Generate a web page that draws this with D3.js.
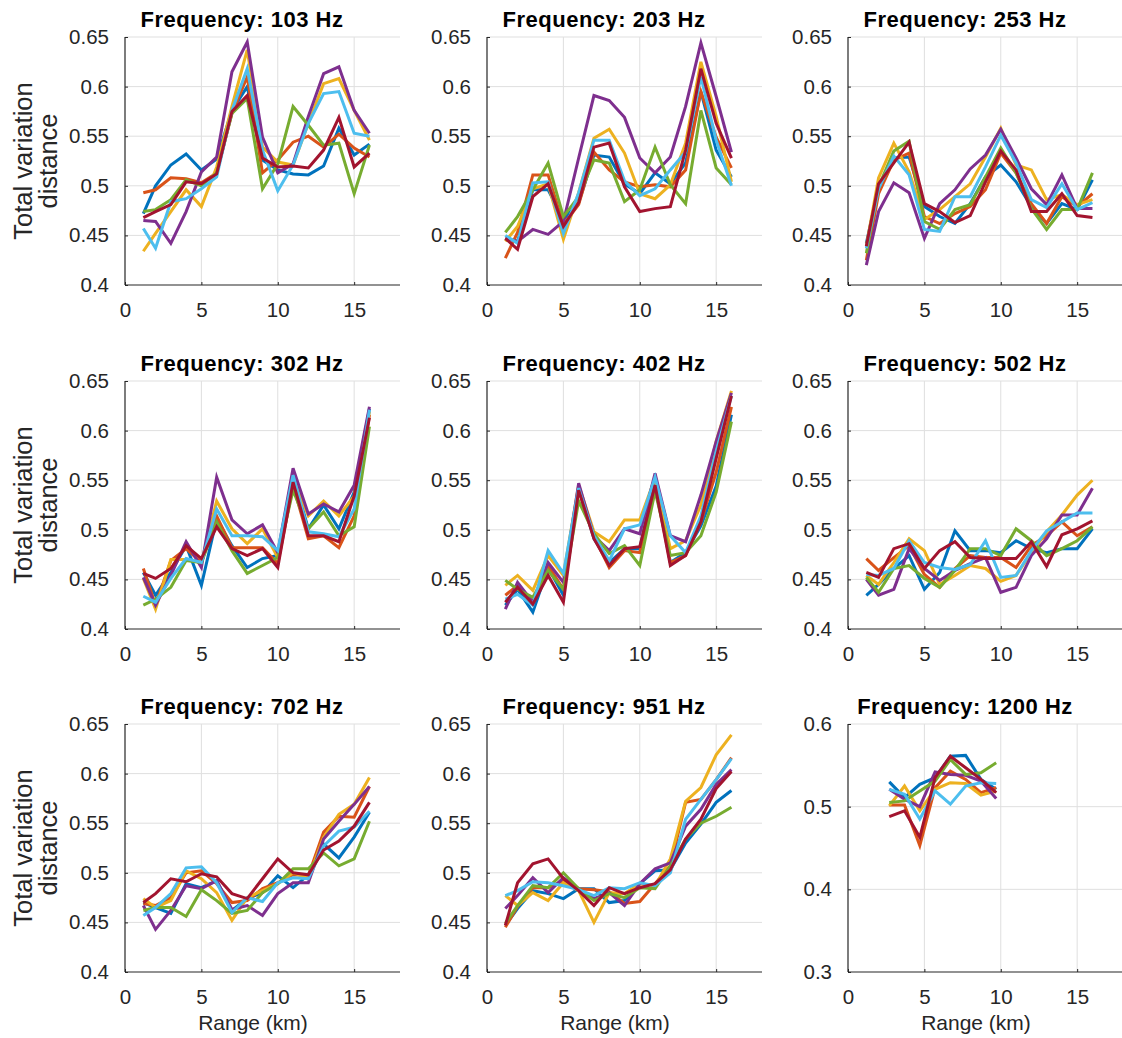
<!DOCTYPE html>
<html>
<head>
<meta charset="utf-8">
<script src="https://cdn.jsdelivr.net/npm/d3@7"></script>
<style>
  html, body { margin: 0; padding: 0; background: #fff; }
  svg { display: block; }
  text { font-family: "Liberation Sans", Arial, Helvetica, sans-serif; }
</style>
</head>
<body>
<svg id="chart" width="1122" height="1038"></svg>
<script>
// ---------------- data ----------------
const seriesColors = ["#0072BD", "#D95319", "#EDB120", "#7E2F8E", "#77AC30", "#4DBEEE", "#A2142F"];
const frequencies = ["103", "203", "253", "302", "402", "502", "702", "951", "1200"];
const rangeKm = [1.2, 2, 3, 4, 5, 6, 7, 8, 9, 10, 11, 12, 13, 14, 15, 16];
const rangeKm1200 = [2.7, 3.7, 4.7, 5.7, 6.7, 7.7, 8.7, 9.7];
const xTicks = [0, 5, 10, 15];
const yTicks = [0.4, 0.45, 0.5, 0.55, 0.6, 0.65];
const yTicks1200 = [0.3, 0.4, 0.5, 0.6];

// each array: 7 series (blue, orange, yellow, purple, green, light blue, dark red)
const tv103 = [
  [0.472, 0.500, 0.521, 0.532, 0.516, 0.527, 0.576, 0.600, 0.526, 0.516, 0.512, 0.511, 0.520, 0.558, 0.531, 0.542],
  [0.493, 0.496, 0.508, 0.507, 0.503, 0.513, 0.573, 0.610, 0.513, 0.526, 0.544, 0.550, 0.539, 0.552, 0.538, 0.529],
  [0.434, 0.452, 0.474, 0.496, 0.479, 0.519, 0.580, 0.637, 0.539, 0.524, 0.521, 0.563, 0.603, 0.608, 0.576, 0.546],
  [0.465, 0.464, 0.442, 0.474, 0.514, 0.529, 0.615, 0.645, 0.549, 0.513, 0.522, 0.570, 0.613, 0.620, 0.576, 0.553],
  [0.474, 0.476, 0.486, 0.506, 0.500, 0.513, 0.573, 0.588, 0.497, 0.522, 0.580, 0.561, 0.541, 0.543, 0.492, 0.541],
  [0.457, 0.437, 0.484, 0.487, 0.497, 0.509, 0.576, 0.618, 0.536, 0.495, 0.521, 0.563, 0.593, 0.595, 0.553, 0.550],
  [0.468, 0.474, 0.481, 0.504, 0.502, 0.512, 0.575, 0.591, 0.528, 0.519, 0.520, 0.518, 0.536, 0.569, 0.519, 0.533]
];
const tv203 = [
  [0.447, 0.444, 0.496, 0.496, 0.466, 0.483, 0.531, 0.529, 0.502, 0.492, 0.513, 0.502, 0.523, 0.595, 0.536, 0.509],
  [0.427, 0.453, 0.511, 0.511, 0.461, 0.481, 0.534, 0.516, 0.504, 0.499, 0.501, 0.499, 0.516, 0.595, 0.549, 0.518],
  [0.444, 0.459, 0.497, 0.502, 0.446, 0.493, 0.548, 0.557, 0.533, 0.492, 0.487, 0.501, 0.543, 0.625, 0.570, 0.504],
  [0.447, 0.444, 0.456, 0.451, 0.464, 0.528, 0.591, 0.586, 0.569, 0.528, 0.513, 0.529, 0.580, 0.644, 0.590, 0.534],
  [0.453, 0.469, 0.496, 0.523, 0.469, 0.489, 0.526, 0.523, 0.484, 0.496, 0.539, 0.501, 0.482, 0.576, 0.518, 0.501],
  [0.450, 0.442, 0.503, 0.504, 0.452, 0.493, 0.546, 0.546, 0.505, 0.490, 0.497, 0.516, 0.534, 0.610, 0.546, 0.500],
  [0.447, 0.436, 0.489, 0.502, 0.459, 0.483, 0.539, 0.543, 0.499, 0.474, 0.477, 0.479, 0.536, 0.618, 0.563, 0.528]
];
const tv253 = [
  [0.442, 0.499, 0.528, 0.529, 0.479, 0.469, 0.462, 0.482, 0.509, 0.521, 0.504, 0.479, 0.462, 0.482, 0.476, 0.506],
  [0.425, 0.492, 0.526, 0.533, 0.469, 0.462, 0.472, 0.479, 0.496, 0.533, 0.513, 0.482, 0.462, 0.489, 0.479, 0.492],
  [0.439, 0.508, 0.543, 0.514, 0.466, 0.476, 0.489, 0.502, 0.529, 0.558, 0.521, 0.516, 0.486, 0.491, 0.481, 0.486],
  [0.420, 0.474, 0.503, 0.493, 0.447, 0.482, 0.496, 0.517, 0.531, 0.557, 0.528, 0.497, 0.481, 0.511, 0.477, 0.477],
  [0.432, 0.499, 0.535, 0.545, 0.464, 0.456, 0.476, 0.481, 0.509, 0.538, 0.513, 0.477, 0.456, 0.476, 0.476, 0.513],
  [0.437, 0.497, 0.530, 0.511, 0.456, 0.454, 0.489, 0.489, 0.519, 0.551, 0.523, 0.486, 0.478, 0.502, 0.476, 0.483],
  [0.439, 0.502, 0.523, 0.544, 0.482, 0.474, 0.463, 0.470, 0.504, 0.535, 0.516, 0.474, 0.474, 0.492, 0.470, 0.468]
];
const tv302 = [
  [0.457, 0.434, 0.457, 0.484, 0.444, 0.511, 0.484, 0.462, 0.471, 0.474, 0.555, 0.501, 0.525, 0.501, 0.538, 0.622],
  [0.461, 0.424, 0.469, 0.481, 0.467, 0.514, 0.482, 0.482, 0.482, 0.466, 0.545, 0.491, 0.494, 0.482, 0.514, 0.616],
  [0.451, 0.420, 0.470, 0.470, 0.467, 0.529, 0.501, 0.486, 0.501, 0.472, 0.552, 0.514, 0.529, 0.514, 0.534, 0.619],
  [0.452, 0.424, 0.454, 0.488, 0.462, 0.553, 0.510, 0.496, 0.505, 0.477, 0.562, 0.516, 0.526, 0.518, 0.545, 0.624],
  [0.424, 0.430, 0.442, 0.469, 0.467, 0.508, 0.479, 0.456, 0.464, 0.472, 0.540, 0.501, 0.518, 0.494, 0.503, 0.604],
  [0.433, 0.427, 0.451, 0.471, 0.467, 0.521, 0.494, 0.494, 0.493, 0.479, 0.555, 0.498, 0.496, 0.493, 0.521, 0.621],
  [0.456, 0.451, 0.461, 0.484, 0.471, 0.503, 0.481, 0.474, 0.481, 0.462, 0.548, 0.494, 0.494, 0.488, 0.534, 0.613]
];
const tv402 = [
  [0.424, 0.440, 0.417, 0.462, 0.434, 0.542, 0.491, 0.467, 0.481, 0.481, 0.552, 0.467, 0.477, 0.504, 0.544, 0.616],
  [0.434, 0.444, 0.427, 0.464, 0.440, 0.540, 0.493, 0.462, 0.479, 0.477, 0.545, 0.467, 0.474, 0.508, 0.558, 0.624],
  [0.444, 0.454, 0.439, 0.474, 0.454, 0.545, 0.498, 0.488, 0.510, 0.510, 0.552, 0.481, 0.489, 0.525, 0.589, 0.640],
  [0.420, 0.447, 0.427, 0.467, 0.447, 0.547, 0.494, 0.479, 0.501, 0.496, 0.557, 0.494, 0.488, 0.535, 0.589, 0.638],
  [0.449, 0.440, 0.432, 0.459, 0.440, 0.529, 0.496, 0.476, 0.484, 0.464, 0.539, 0.474, 0.477, 0.494, 0.538, 0.609],
  [0.430, 0.435, 0.424, 0.479, 0.456, 0.542, 0.494, 0.469, 0.501, 0.505, 0.553, 0.494, 0.477, 0.514, 0.579, 0.635],
  [0.427, 0.442, 0.425, 0.454, 0.427, 0.540, 0.491, 0.464, 0.481, 0.483, 0.545, 0.464, 0.474, 0.508, 0.572, 0.635]
];
const tv502 = [
  [0.434, 0.445, 0.461, 0.474, 0.440, 0.457, 0.499, 0.479, 0.479, 0.477, 0.489, 0.481, 0.477, 0.481, 0.481, 0.501],
  [0.471, 0.459, 0.472, 0.484, 0.455, 0.442, 0.461, 0.474, 0.472, 0.472, 0.462, 0.484, 0.494, 0.508, 0.494, 0.503],
  [0.454, 0.445, 0.467, 0.491, 0.479, 0.445, 0.454, 0.464, 0.461, 0.448, 0.454, 0.477, 0.498, 0.515, 0.535, 0.550],
  [0.450, 0.434, 0.440, 0.481, 0.461, 0.449, 0.459, 0.466, 0.472, 0.437, 0.442, 0.474, 0.491, 0.515, 0.515, 0.542],
  [0.452, 0.437, 0.461, 0.464, 0.451, 0.442, 0.459, 0.481, 0.481, 0.474, 0.501, 0.489, 0.474, 0.481, 0.489, 0.503],
  [0.455, 0.454, 0.461, 0.489, 0.467, 0.462, 0.460, 0.465, 0.489, 0.452, 0.454, 0.479, 0.499, 0.508, 0.517, 0.517],
  [0.457, 0.452, 0.481, 0.486, 0.461, 0.479, 0.488, 0.472, 0.471, 0.471, 0.471, 0.488, 0.463, 0.495, 0.501, 0.509]
];
const tv702 = [
  [0.470, 0.465, 0.459, 0.489, 0.485, 0.492, 0.462, 0.474, 0.480, 0.497, 0.485, 0.498, 0.529, 0.515, 0.536, 0.561],
  [0.469, 0.467, 0.475, 0.500, 0.502, 0.489, 0.470, 0.472, 0.484, 0.490, 0.498, 0.497, 0.541, 0.557, 0.556, 0.587],
  [0.474, 0.465, 0.472, 0.502, 0.494, 0.480, 0.452, 0.475, 0.482, 0.489, 0.500, 0.495, 0.536, 0.559, 0.569, 0.596],
  [0.467, 0.443, 0.462, 0.487, 0.484, 0.492, 0.463, 0.467, 0.457, 0.479, 0.490, 0.490, 0.534, 0.552, 0.569, 0.587],
  [0.462, 0.465, 0.465, 0.456, 0.483, 0.472, 0.459, 0.462, 0.480, 0.489, 0.504, 0.504, 0.520, 0.507, 0.514, 0.552],
  [0.457, 0.465, 0.479, 0.505, 0.506, 0.490, 0.460, 0.475, 0.471, 0.490, 0.495, 0.494, 0.527, 0.542, 0.546, 0.562],
  [0.470, 0.479, 0.494, 0.491, 0.499, 0.496, 0.479, 0.474, 0.494, 0.514, 0.500, 0.498, 0.523, 0.532, 0.547, 0.571]
];
const tv951 = [
  [0.447, 0.464, 0.482, 0.479, 0.474, 0.484, 0.484, 0.470, 0.472, 0.489, 0.502, 0.503, 0.530, 0.549, 0.571, 0.583],
  [0.445, 0.466, 0.485, 0.485, 0.492, 0.484, 0.483, 0.481, 0.469, 0.471, 0.489, 0.507, 0.571, 0.574, 0.594, 0.616],
  [0.477, 0.467, 0.480, 0.472, 0.490, 0.482, 0.450, 0.480, 0.479, 0.489, 0.487, 0.514, 0.572, 0.586, 0.619, 0.639],
  [0.464, 0.477, 0.495, 0.480, 0.495, 0.484, 0.474, 0.480, 0.467, 0.489, 0.504, 0.510, 0.547, 0.564, 0.589, 0.604],
  [0.449, 0.467, 0.487, 0.485, 0.500, 0.484, 0.472, 0.479, 0.475, 0.485, 0.484, 0.507, 0.534, 0.550, 0.557, 0.566],
  [0.477, 0.482, 0.491, 0.490, 0.487, 0.483, 0.477, 0.485, 0.484, 0.490, 0.487, 0.500, 0.554, 0.574, 0.594, 0.615],
  [0.447, 0.490, 0.509, 0.514, 0.494, 0.482, 0.467, 0.485, 0.479, 0.485, 0.489, 0.503, 0.534, 0.554, 0.585, 0.602]
];
const tv1200 = [
  [0.530, 0.511, 0.527, 0.535, 0.561, 0.562, 0.533, 0.521],
  [0.502, 0.502, 0.453, 0.523, 0.543, 0.533, 0.517, 0.523],
  [0.501, 0.525, 0.495, 0.521, 0.529, 0.528, 0.514, 0.519],
  [0.521, 0.509, 0.500, 0.542, 0.539, 0.538, 0.531, 0.510],
  [0.505, 0.507, 0.519, 0.531, 0.557, 0.539, 0.541, 0.553],
  [0.521, 0.515, 0.485, 0.519, 0.503, 0.525, 0.529, 0.528],
  [0.488, 0.495, 0.463, 0.535, 0.561, 0.547, 0.533, 0.517]
];

// ---------------- layout ----------------
const panelData = [tv103, tv203, tv253, tv302, tv402, tv502, tv702, tv951, tv1200];
const colLeft = [125, 487, 848];
const rowTop = [37, 381, 724];
const W = 275, H = 248;

const svg = d3.select("#chart");
const tickColor = "#262626";
const gridColor = "#dfdfdf";

panelData.forEach((series, i) => {
  const col = i % 3, row = Math.floor(i / 3);
  const is1200 = i === 8;
  const xs = is1200 ? rangeKm1200 : rangeKm;
  const g = svg.append("g").attr("transform", `translate(${colLeft[col]},${rowTop[row]})`);

  const x = d3.scaleLinear().domain([0, 18]).range([0, W]);
  const y = d3.scaleLinear().domain(is1200 ? [0.3, 0.6] : [0.4, 0.65]).range([H, 0]);
  const yt = is1200 ? yTicks1200 : yTicks;

  // grid
  g.append("g").selectAll("line").data(xTicks.filter(d => d > 0)).join("line")
    .attr("x1", d => x(d)).attr("x2", d => x(d)).attr("y1", 0).attr("y2", H)
    .attr("stroke", gridColor).attr("stroke-width", 1);
  g.append("g").selectAll("line").data(yt.filter(d => d > y.domain()[0])).join("line")
    .attr("x1", 0).attr("x2", W).attr("y1", d => y(d)).attr("y2", d => y(d))
    .attr("stroke", gridColor).attr("stroke-width", 1);

  // axes
  const xAxis = d3.axisBottom(x).tickValues(xTicks).tickSize(-3).tickPadding(17).tickFormat(d3.format("d"));
  const yAxis = d3.axisLeft(y).tickValues(yt).tickSize(-3).tickPadding(16).tickFormat(d => String(+d.toFixed(2)));
  const gx = g.append("g").attr("transform", `translate(0,${H})`).call(xAxis);
  const gy = g.append("g").call(yAxis);
  [gx, gy].forEach(a => {
    a.select(".domain").attr("stroke", tickColor).attr("stroke-width", 1.2);
    a.selectAll(".tick line").attr("stroke", tickColor);
    a.selectAll(".tick text").attr("fill", tickColor).style("font-size", "20.5px")
      .style("font-family", '"Liberation Sans", Arial, sans-serif');
  });
  gx.select(".domain").attr("d", `M0,0H${W}`);
  gy.select(".domain").attr("d", `M0,${H}V0`);

  // lines
  const line = d3.line().x((d, k) => x(xs[k])).y(d => y(d));
  g.append("g").selectAll("path").data(series).join("path")
    .attr("d", d => line(d))
    .attr("fill", "none")
    .attr("stroke", (d, k) => seriesColors[k])
    .attr("stroke-width", 3)
    .attr("stroke-linejoin", "miter");

  // title
  g.append("text")
    .attr("x", 117).attr("y", -10)
    .attr("text-anchor", "middle")
    .style("font-size", "22px").style("font-weight", "bold")
    .style("letter-spacing", "0.5px")
    .attr("fill", "#000")
    .text(`Frequency: ${frequencies[i]} Hz`);

  // y label
  if (col === 0) {
    const yl = g.append("text")
      .attr("transform", `translate(${-93},${H / 2}) rotate(-90)`)
      .attr("text-anchor", "middle")
      .style("font-size", "25.5px").attr("fill", tickColor);
    yl.append("tspan").attr("x", 0).attr("dy", 0).text("Total variation");
    yl.append("tspan").attr("x", 0).attr("dy", 25).text("distance");
  }
  // x label
  if (row === 2) {
    g.append("text")
      .attr("x", 128).attr("y", H + 58)
      .attr("text-anchor", "middle")
      .style("font-size", "21px").attr("fill", tickColor)
      .text("Range (km)");
  }
});
</script>
</body>
</html>
